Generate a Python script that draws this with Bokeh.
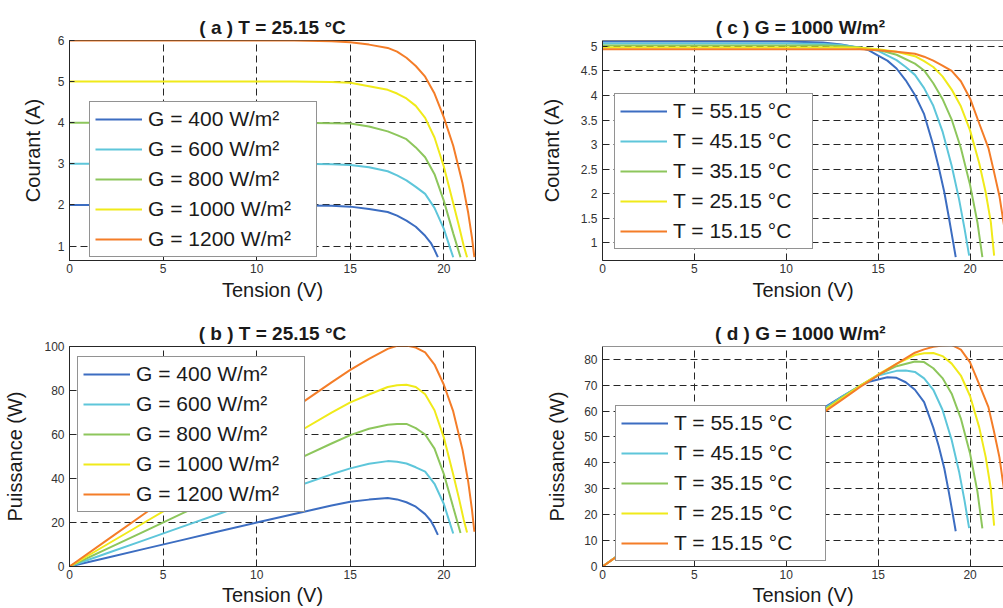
from bokeh.plotting import figure
from bokeh.models import (Range1d, FixedTicker, Legend, LegendItem, Span,
                          NumeralTickFormatter)
from bokeh.layouts import column, row
from bokeh.embed import file_html
from bokeh.resources import INLINE

FONT = "Liberation Sans"
COLORS = ["#3C6DC1", "#5EC6DA", "#8DC65C", "#F0EA1A", "#F47D28"]

# ---------------- Panels (a)/(b): T = 25.15 C, varying irradiance ----------------
G_LABELS = ["G = 400 W/m²", "G = 600 W/m²", "G = 800 W/m²",
            "G = 1000 W/m²", "G = 1200 W/m²"]

V_400 = [0, 2, 4, 6, 8, 10, 12, 14, 15, 16, 17, 17.5, 18, 18.5, 19, 19.3, 19.5, 19.68]
I_400 = [2.00, 2.00, 2.00, 2.00, 2.00, 2.00, 1.99, 1.98, 1.96, 1.90, 1.83, 1.74, 1.62, 1.47, 1.25, 1.08, 0.91, 0.73]
P_400 = [0, 4.0, 8.0, 12.0, 16.0, 20.0, 23.9, 27.7, 29.4, 30.4, 31.1, 30.5, 29.2, 27.2, 23.8, 20.8, 17.7, 14.4]

V_600 = [0, 2, 4, 6, 8, 10, 12, 14, 15, 16, 17, 17.5, 18, 18.5, 19, 19.5, 20, 20.3, 20.5]
I_600 = [3.00, 3.00, 3.00, 3.00, 3.00, 3.00, 3.00, 2.99, 2.97, 2.92, 2.82, 2.72, 2.60, 2.44, 2.27, 1.93, 1.42, 1.00, 0.73]
P_600 = [0, 6.0, 12.0, 18.0, 24.0, 30.0, 36.0, 41.9, 44.6, 46.7, 47.9, 47.6, 46.8, 45.1, 43.1, 37.6, 28.4, 20.3, 15.0]

V_800 = [0, 2, 4, 6, 8, 10, 12, 14, 15, 16, 17, 17.5, 18, 18.5, 19, 19.5, 20, 20.5, 20.89]
I_800 = [4.00, 4.00, 4.00, 4.00, 4.00, 4.00, 4.00, 3.99, 3.98, 3.91, 3.79, 3.70, 3.60, 3.40, 3.16, 2.75, 2.10, 1.31, 0.73]
P_800 = [0, 8.0, 16.0, 24.0, 32.0, 40.0, 48.0, 55.9, 59.7, 62.6, 64.4, 64.8, 64.8, 62.9, 60.0, 53.6, 42.0, 26.9, 15.2]

V_1000 = [0, 2, 4, 6, 8, 10, 12, 14, 15, 16, 17, 17.5, 18, 18.5, 19, 19.5, 20, 20.5, 20.8, 21.06, 21.24]
I_1000 = [5.00, 5.00, 5.00, 5.00, 5.00, 5.00, 5.00, 4.99, 4.97, 4.89, 4.80, 4.71, 4.59, 4.41, 4.12, 3.64, 2.93, 2.04, 1.50, 1.01, 0.73]
P_1000 = [0, 10.0, 20.0, 30.0, 40.0, 50.0, 60.0, 69.9, 74.6, 78.2, 81.6, 82.4, 82.6, 81.6, 78.3, 71.0, 58.6, 41.8, 31.2, 21.3, 15.5]

V_1200 = [0, 2, 4, 6, 8, 10, 12, 14, 15, 16, 17, 17.5, 18, 18.5, 19, 19.5, 20, 20.5, 21, 21.3, 21.5, 21.63]
I_1200 = [6.00, 6.00, 6.00, 6.00, 6.00, 6.00, 6.00, 5.98, 5.96, 5.90, 5.82, 5.73, 5.58, 5.38, 5.12, 4.71, 4.13, 3.44, 2.52, 1.81, 1.21, 0.73]
P_1200 = [0, 12.0, 24.0, 36.0, 48.0, 60.0, 72.0, 83.7, 89.4, 94.4, 98.9, 100.3, 100.4, 99.5, 97.3, 91.8, 82.6, 70.5, 52.9, 38.6, 26.0, 15.8]

# ---------------- Panels (c)/(d): G = 1000 W/m2, varying temperature ----------------
T_LABELS = ["T = 55.15 °C", "T = 45.15 °C", "T = 35.15 °C",
            "T = 25.15 °C", "T = 15.15 °C"]

V_T55 = [0, 2, 4, 6, 8, 10, 12, 13, 14, 14.5, 15, 15.5, 16, 16.5, 17, 17.5, 18, 18.3, 18.6, 18.85, 19.05, 19.22]
I_T55 = [5.10, 5.10, 5.10, 5.10, 5.10, 5.10, 5.08, 5.04, 4.97, 4.92, 4.81, 4.71, 4.55, 4.31, 4.01, 3.62, 2.98, 2.53, 2.03, 1.51, 1.08, 0.71]
P_T55 = [0, 10.2, 20.4, 30.6, 40.8, 51.0, 61.0, 65.5, 69.6, 71.3, 72.2, 73.0, 72.8, 71.1, 68.2, 63.4, 53.6, 46.3, 37.8, 28.5, 20.6, 13.6]

V_T45 = [0, 2, 4, 6, 8, 10, 12, 13, 14, 15, 16, 16.5, 17, 17.5, 18, 18.5, 19, 19.4, 19.7, 19.95]
I_T45 = [5.06, 5.06, 5.06, 5.06, 5.06, 5.06, 5.05, 5.03, 4.98, 4.91, 4.72, 4.58, 4.42, 4.15, 3.79, 3.27, 2.57, 1.89, 1.29, 0.74]
P_T45 = [0, 10.1, 20.2, 30.4, 40.5, 50.6, 60.6, 65.4, 69.7, 73.7, 75.5, 75.6, 75.1, 72.6, 68.2, 60.5, 48.8, 36.7, 25.4, 14.8]

V_T35 = [0, 2, 4, 6, 8, 10, 12, 13, 14, 15, 16, 17, 17.5, 18, 18.5, 19, 19.5, 20, 20.4, 20.67]
I_T35 = [5.02, 5.02, 5.02, 5.02, 5.02, 5.02, 5.02, 5.01, 4.98, 4.93, 4.83, 4.65, 4.51, 4.25, 3.93, 3.51, 2.93, 2.18, 1.42, 0.71]
P_T35 = [0, 10.0, 20.1, 30.1, 40.2, 50.2, 60.2, 65.1, 69.7, 74.0, 77.3, 79.1, 78.9, 76.5, 72.7, 66.7, 57.1, 43.6, 29.0, 14.7]

V_T25 = [0, 2, 4, 6, 8, 10, 12, 13, 14, 15, 16, 17, 17.5, 18, 18.5, 19, 19.5, 20, 20.5, 20.85, 21.13, 21.31]
I_T25 = [4.98, 4.98, 4.98, 4.98, 4.98, 4.98, 4.98, 4.98, 4.97, 4.94, 4.89, 4.80, 4.70, 4.58, 4.39, 4.12, 3.78, 3.29, 2.62, 2.03, 1.42, 0.74]
P_T25 = [0, 10.0, 19.9, 29.9, 39.8, 49.8, 59.8, 64.7, 69.6, 74.1, 78.2, 81.6, 82.3, 82.4, 81.2, 78.3, 73.7, 65.8, 53.7, 42.3, 30.0, 15.8]

V_T15 = [0, 2, 4, 6, 8, 10, 12, 13, 14, 15, 16, 17, 17.5, 18, 18.5, 19, 19.5, 20, 20.5, 21, 21.3, 21.6, 21.85, 22.05]
I_T15 = [4.94, 4.94, 4.94, 4.94, 4.94, 4.94, 4.94, 4.94, 4.94, 4.92, 4.89, 4.85, 4.79, 4.71, 4.61, 4.50, 4.29, 3.94, 3.43, 2.93, 2.45, 1.95, 1.35, 0.72]
P_T15 = [0, 9.9, 19.8, 29.6, 39.5, 49.4, 59.3, 64.2, 69.2, 73.8, 78.2, 82.5, 83.8, 84.8, 85.3, 85.5, 83.7, 78.8, 70.3, 61.5, 52.2, 42.1, 29.5, 15.9]

X_TICKS = [0, 5, 10, 15, 20]
YA_TICKS = [1, 2, 3, 4, 5, 6]
YB_TICKS = [0, 20, 40, 60, 80, 100]
YC_TICKS = [1, 1.5, 2, 2.5, 3, 3.5, 4, 4.5, 5]
YD_TICKS = [0, 10, 20, 30, 40, 50, 60, 70, 80]


def base_fig(width, height, left, right, top, bottom, xr, yr, yticks, title, boxed,
             ylabel, xl_standoff, yl_standoff, title_standoff):
    p = figure(width=width, height=height, x_range=Range1d(*xr), y_range=Range1d(*yr),
               output_backend="svg", toolbar_location=None,
               min_border_left=left, min_border_right=right,
               min_border_top=top, min_border_bottom=bottom,
               background_fill_color="white", border_fill_color="white")
    p.title.text = title
    p.title.align = "center"
    p.title.text_font = FONT
    p.title.text_font_size = "19px"
    p.title.text_font_style = "bold"
    p.title.text_color = "#1a1a1a"
    p.title.standoff = title_standoff
    p.xaxis.ticker = FixedTicker(ticks=X_TICKS)
    p.yaxis.ticker = FixedTicker(ticks=yticks)
    p.yaxis.formatter = NumeralTickFormatter(format="0.[0]")
    for ax in (p.xaxis[0], p.yaxis[0]):
        ax.major_tick_in = 5
        ax.major_tick_out = 0
        ax.minor_tick_line_color = None
        ax.axis_line_color = "#262626"
        ax.major_tick_line_color = "#262626"
        ax.major_label_text_font = FONT
        ax.major_label_text_font_size = "12px"
        ax.major_label_text_color = "#333333"
        ax.axis_label_text_font = FONT
        ax.axis_label_text_font_size = "20px"
        ax.axis_label_text_font_style = "normal"
        ax.axis_label_text_color = "#1a1a1a"
    p.xaxis.major_label_standoff = 3
    p.yaxis.major_label_standoff = 5
    p.xaxis.axis_label = "Tension (V)"
    p.yaxis.axis_label = ylabel
    p.xaxis.axis_label_standoff = xl_standoff
    p.yaxis.axis_label_standoff = yl_standoff
    for g in (p.xgrid[0], p.ygrid[0]):
        g.grid_line_color = "#262626"
        g.grid_line_dash = "7 4"
        g.grid_line_width = 1
    if boxed:
        p.outline_line_color = "#262626"
        p.outline_line_width = 1
        p.outline_line_alpha = 1
    else:
        p.outline_line_color = None
        p.add_layout(Span(location=yr[1], dimension="width",
                          line_color="#262626", line_width=1))
    return p


def add_curves(p, xs, ys, labels, loc, label_width):
    items = []
    for x, y, lab, c in zip(xs, ys, labels, COLORS):
        r = p.line(x, y, line_color=c, line_width=2)
        items.append(LegendItem(label=lab, renderers=[r]))
    leg = Legend(items=items, location=loc, orientation="vertical",
                 label_text_font=FONT, label_text_font_size="21px",
                 label_text_color="#1a1a1a",
                 label_height=24, glyph_height=24, glyph_width=47,
                 label_standoff=6, label_width=label_width,
                 spacing=6, padding=5, margin=0,
                 border_line_color="#262626", border_line_width=1,
                 background_fill_color="white", background_fill_alpha=1)
    p.add_layout(leg)


# (a)
pa = base_fig(500, 310, 69, 25, 40, 50, (0, 21.69), (0.65, 6.0), YA_TICKS,
              "( a ) T = 25.15 °C", True, "Courant (A)", 3, 11, 6)
add_curves(pa, [V_400, V_600, V_800, V_1000, V_1200],
           [I_400, I_600, I_800, I_1000, I_1200], G_LABELS, (20, 3), 163)

# (b)
pb = base_fig(500, 298, 69, 25, 35, 42, (0, 21.69), (0, 100), YB_TICKS,
              "( b ) T = 25.15 °C", True, "Puissance (W)", 2, 15, 5)
add_curves(pb, [V_400, V_600, V_800, V_1000, V_1200],
           [P_400, P_600, P_800, P_1000, P_1200], G_LABELS, (8, 54), 163)

# (c)
pc = base_fig(503, 310, 102, 0, 40, 50, (0, 21.82), (0.64, 5.12), YC_TICKS,
              "( c )  G = 1000 W/m²", False, "Courant (A)", 3, 15, 6)
add_curves(pc, [V_T55, V_T45, V_T35, V_T25, V_T15],
           [I_T55, I_T45, I_T35, I_T25, I_T15], T_LABELS, (12, 11), 134)

# (d)
pd_ = base_fig(503, 298, 102, 0, 36, 42, (0, 21.82), (0, 84.9), YD_TICKS,
               "( d )  G = 1000 W/m²", False, "Puissance (W)", 2, 13, 6)
add_curves(pd_, [V_T55, V_T45, V_T35, V_T25, V_T15],
           [P_T55, P_T45, P_T35, P_T25, P_T15], T_LABELS, (13, 5), 146)

layout = column(row(pa, pc, spacing=0), row(pb, pd_, spacing=0), spacing=0)

with open("out.html", "w") as f:
    f.write(file_html(layout, INLINE))
